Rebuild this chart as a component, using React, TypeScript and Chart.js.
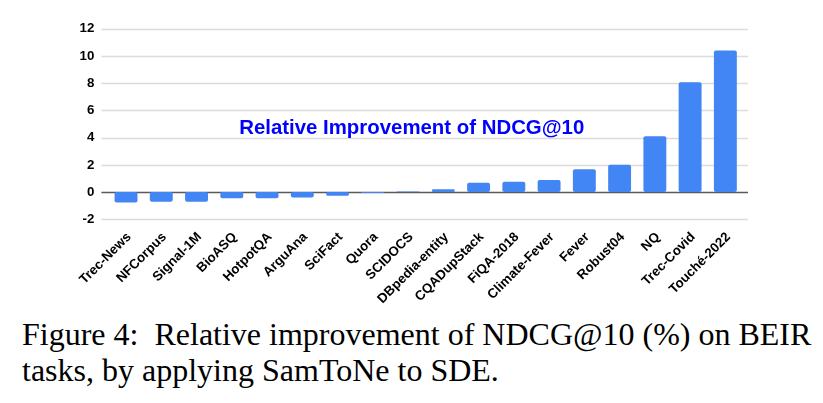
import React, { useEffect, useRef } from 'react';
import { Chart, registerables } from 'chart.js';

Chart.register(...registerables);

const categories = [
  'Trec-News', 'NFCorpus', 'Signal-1M', 'BioASQ', 'HotpotQA', 'ArguAna', 'SciFact', 'Quora',
  'SCIDOCS', 'DBpedia-entity', 'CQADupStack', 'FiQA-2018', 'Climate-Fever', 'Fever',
  'Robust04', 'NQ', 'Trec-Covid', 'Touché-2022',
];
const improvement = [
  -0.76, -0.71, -0.71, -0.46, -0.46, -0.39, -0.27, -0.07, 0.05, 0.2, 0.68, 0.76, 0.88, 1.68,
  2.0, 4.1, 8.07, 10.39,
];
const yTicks = [-2, 0, 2, 4, 6, 8, 10, 12];
const chartTitle = 'Relative Improvement of NDCG@10';

const CANVAS_H = 312;

const gridPlugin = {
  id: 'customGrid',
  beforeDatasetsDraw(chart: any) {
    const { ctx, chartArea, scales } = chart;
    const y = scales.y;
    ctx.save();
    yTicks.forEach((v) => {
      const py = Math.round(y.getPixelForValue(v)) + 0.5;
      ctx.beginPath();
      ctx.strokeStyle = v === 0 ? '#5a5a5a' : '#dcdcdc';
      ctx.lineWidth = v === 0 ? 1.5 : 1.3;
      ctx.moveTo(chartArea.left - 7, py);
      ctx.lineTo(chartArea.right + 5, py);
      ctx.stroke();
    });
    ctx.restore();
  },
  afterDatasetsDraw(chart: any) {
    const { ctx, chartArea, scales } = chart;
    const x = chartArea.left + (chartArea.right - chartArea.left) * 0.478;
    const py = scales.y.getPixelForValue(4.29);
    ctx.save();
    ctx.font = 'bold 20.4px "Liberation Sans", Arial, sans-serif';
    ctx.fillStyle = '#0000ff';
    ctx.textAlign = 'center';
    ctx.textBaseline = 'alphabetic';
    ctx.fillText(chartTitle, x, py);
    ctx.restore();
  },
};

export default function App() {
  const ref = useRef<HTMLCanvasElement | null>(null);
  useEffect(() => {
    if (!ref.current) return;
    const chart = new Chart(ref.current, {
      type: 'bar',
      data: {
        labels: categories,
        datasets: [
          {
            data: improvement,
            backgroundColor: '#4285f4',
            borderRadius: 2,
            borderSkipped: false,
            categoryPercentage: 1,
            barPercentage: 0.65,
          },
        ],
      },
      options: {
        animation: false,
        responsive: false,
        maintainAspectRatio: false,
        layout: { padding: { left: 0, right: 80, top: 28.7, bottom: 0 } },
        plugins: { legend: { display: false }, title: { display: false }, tooltip: { enabled: false } },
        scales: {
          x: {
            grid: { display: false, drawTicks: false },
            border: { display: false },
            ticks: {
              color: '#000',
              font: { family: '"Liberation Sans", Arial, sans-serif', size: 13.3, weight: 'bold' },
              maxRotation: 45,
              minRotation: 45,
              autoSkip: false,
              padding: 10,
              labelOffset: 3,
            },
            afterFit(scale: any) {
              scale.height = CANVAS_H - 219.3;
            },
          },
          y: {
            min: -2,
            max: 12,
            grid: { display: false, drawTicks: false },
            border: { display: false },
            ticks: {
              stepSize: 2,
              color: '#000',
              font: { family: '"Liberation Sans", Arial, sans-serif', size: 13.3, weight: 'bold' },
              padding: 14,
            },
            afterFit(scale: any) {
              scale.width = 108.4;
            },
          },
        },
      },
      plugins: [gridPlugin],
    });
    return () => chart.destroy();
  }, []);

  return (
    <div style={{ position: 'absolute', left: 0, top: 0, width: 823, height: 403, background: '#fff', overflow: 'hidden' }}>
      <canvas ref={ref} width={823} height={CANVAS_H} style={{ position: 'absolute', left: 0, top: 0, width: 823, height: CANVAS_H }} />
      <div
        style={{
          position: 'absolute',
          left: 22,
          top: 316,
          width: 800,
          fontFamily: '"Liberation Serif", "Times New Roman", serif',
          fontSize: 32,
          lineHeight: '36px',
          color: '#000',
          whiteSpace: 'pre',
        }}
      >
        {'Figure 4:  Relative improvement of NDCG@10 (%) on BEIR\ntasks, by applying SamToNe to SDE.'}
      </div>
    </div>
  );
}
